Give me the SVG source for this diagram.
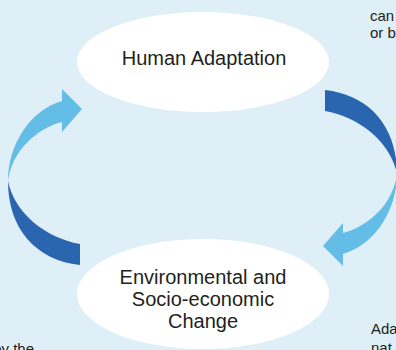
<svg xmlns="http://www.w3.org/2000/svg" width="396" height="350" viewBox="0 0 396 350">
  <style>
    .node { fill: #ffffff; }
    .label { font-family: "Liberation Sans", Arial, sans-serif; font-size: 20px; fill: #231f20; text-anchor: middle; }
    .side { font-family: "Liberation Sans", Arial, sans-serif; font-size: 15px; fill: #231f20; }
    .dark { fill: #2a65b0; }
    .light { fill: #63bde6; }
  </style>
  <defs>
    <g id="halfcycle">
      <path class="light" d="M 8,181 C 8,145 30,110 62,101 L 62,89 L 82,109 L 62,132 L 62,122 C 38,128 12,150 8,181 Z"/>
      <path class="dark" d="M 8,181 C 8,228 35,260 80,265 L 80,244 C 45,238 14,212 8,181 Z"/>
    </g>
  </defs>
  <rect x="0" y="0" width="396" height="350" fill="#dfeff7"/>
  <text class="side" x="370" y="21">can</text>
  <text class="side" x="370" y="38">or b</text>
  <text class="side" x="371" y="334">Ada</text>
  <text class="side" x="371" y="353">nat</text>
  <text class="side" x="34" y="354" text-anchor="end">by the</text>
  <g id="connectors">
    <use href="#halfcycle"/>
    <use href="#halfcycle" transform="rotate(180 202.5 177.5)"/>
  </g>
  <g id="human-adaptation">
    <ellipse class="node" cx="203" cy="62" rx="126" ry="50"/>
    <text class="label" x="204" y="65">Human Adaptation</text>
  </g>
  <g id="environmental-change">
    <ellipse class="node" cx="203" cy="294" rx="126" ry="55"/>
    <text class="label" x="203" y="284">Environmental and</text>
    <text class="label" x="203" y="306">Socio-economic</text>
    <text class="label" x="203" y="328">Change</text>
  </g>
</svg>
